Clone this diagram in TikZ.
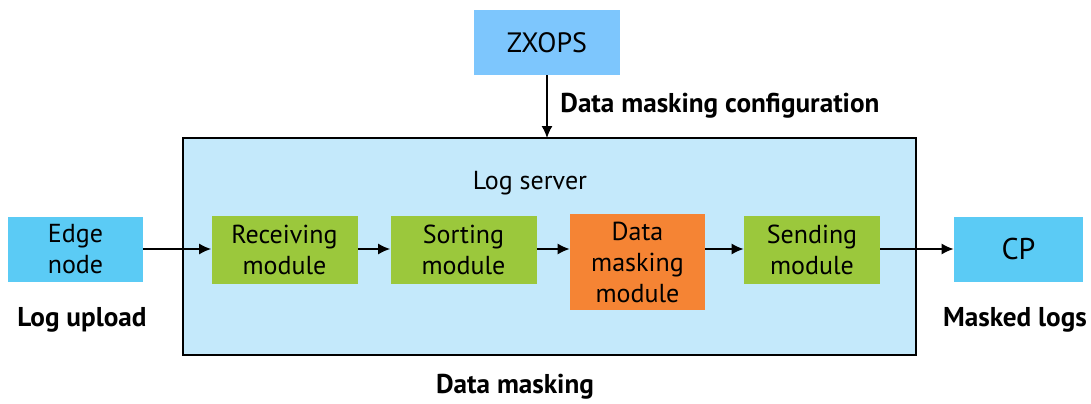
\documentclass[tikz,border=0pt]{standalone}
\usepackage{fontspec}
\setmainfont{PT Sans}
\usepackage{tikz}
\usetikzlibrary{arrows.meta}
\definecolor{serverblue}{HTML}{C4E9FB}
\definecolor{edgeblue}{HTML}{5BCBF5}
\definecolor{opsblue}{HTML}{7DC6FD}
\definecolor{modgreen}{HTML}{9BC83C}
\definecolor{maskorange}{HTML}{F58434}

\begin{document}
\begin{tikzpicture}[x=0.5pt,y=-0.5pt]
	  \tikzstyle{box} = [rectangle, inner sep=0pt, align=center, font=\fontsize{13}{15.5}\selectfont]
	  \tikzstyle{module} = [box, fill=modgreen, minimum width=73pt, minimum height=34pt]
	  \tikzstyle{caption} = [inner sep=0pt, font=\fontsize{13.6}{16}\selectfont\bfseries]
	  \tikzstyle{flow} = [-{Latex[length=6pt,width=5.5pt]}, line width=0.7pt]
	  \useasboundingbox (0,0) rectangle (1091,403);
	  \draw [fill=serverblue, line width=0.7pt] (183,138) rectangle (916,355);
	  \node (server) [inner sep=0pt, font=\fontsize{13}{15.5}\selectfont] at (530,183) {Log server};
	  \node (zxops) [box, fill=opsblue, minimum width=73pt, minimum height=32.5pt, font=\fontsize{14}{16}\selectfont] at (547,42.5) {ZXOPS};
	  \node (edge) [box, fill=edgeblue, minimum width=67.5pt, minimum height=32.5pt] at (75.5,249) {Edge\\node};
	  \node (recv) [module] at (284.5,250) {Receiving\\module};
	  \node (sort) [module] at (463.5,250) {Sorting\\module};
	  \node (mask) [box, fill=maskorange, minimum width=67.5pt, minimum height=48pt] at (637.5,262) {Data\\masking\\module};
	  \node (send) [module, minimum width=68pt] at (812,249.5) {Sending\\module};
	  \node (cp) [box, fill=edgeblue, minimum width=64.5pt, minimum height=32.5pt, font=\fontsize{15}{17}\selectfont] at (1018.5,249) {CP};
	  \coordinate (cfg) at (547,138);
	  \node (cfglabel) [caption, anchor=west] at (560,106) {Data masking configuration};
	  \node (upload) [caption] at (82,320) {Log upload};
	  \node (masked) [caption] at (1015,320) {Masked logs};
	  \node (datamasking) [caption] at (515,387) {Data masking};
	  \draw [flow] (zxops) -- (cfg);
	  \draw [flow] (edge) -- (edge -| recv.west);
	  \draw [flow] (recv.east |- edge) -- (sort.west |- edge);
	  \draw [flow] (sort.east |- edge) -- (mask.west |- edge);
	  \draw [flow] (mask.east |- edge) -- (send.west |- edge);
	  \draw [flow] (send.east |- edge) -- (cp);
\end{tikzpicture}
\end{document}
